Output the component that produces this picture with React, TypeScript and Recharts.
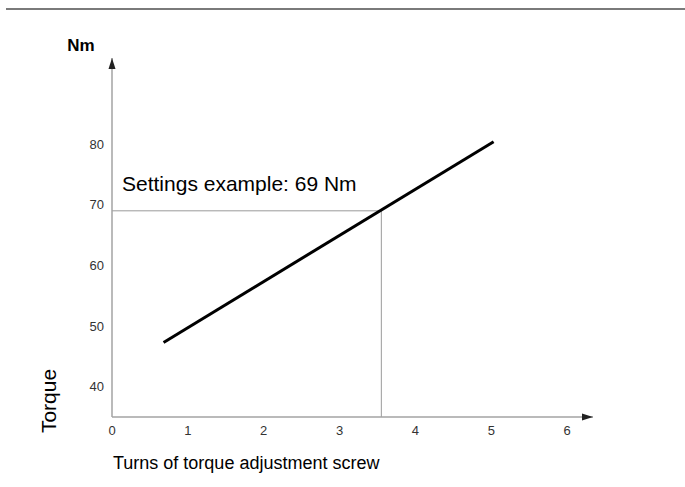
import { LineChart, Line, XAxis, YAxis, ReferenceLine, ReferenceDot, Label } from 'recharts';

const turns = [0.68, 5.03];
const torque = [47.3, 80.4];
const xTicks = [0, 1, 2, 3, 4, 5, 6];
const yTicks = [40, 50, 60, 70, 80];
const settingTurns = 3.55;
const settingTorque = 69;

const X_MAX = 6.34;
const Y_MIN = 35;
const Y_MAX = 94.2;

const data = turns.map((t, i) => ({ x: t, y: torque[i] }));

const axisColor = '#a3a3a3';
const font = '"Liberation Sans", Arial, sans-serif';

// tick labels drawn by hand so the size is sure to stick
const xTick = (props: any) => {
  const { x, y, payload } = props;
  return (
    <text x={x} y={y + 8} textAnchor="middle" fontSize={13} fill="#333" fontFamily={font}>
      {payload.value}
    </text>
  );
};

const yTick = (props: any) => {
  const { x, y, payload } = props;
  return (
    <text x={x} y={y + 4.5} textAnchor="end" fontSize={13} fill="#333" fontFamily={font}>
      {payload.value}
    </text>
  );
};

const xArrow = (props: any) => {
  const { cx, cy } = props;
  return <polygon points={`${cx},${cy} ${cx - 11},${cy - 3.5} ${cx - 11},${cy + 3.5}`} fill="#222" />;
};

const yArrow = (props: any) => {
  const { cx, cy } = props;
  return (
    <g>
      <polygon points={`${cx},${cy} ${cx - 3.5},${cy + 11} ${cx + 3.5},${cy + 11}`} fill="#222" />
      <text x={cx - 31} y={cy - 7} textAnchor="middle" fontSize={17} fontWeight="bold" fill="#000" fontFamily={font}>
        Nm
      </text>
    </g>
  );
};

export default function App() {
  return (
    <div style={{ position: 'absolute', left: 0, top: 0, width: 685, height: 487, background: '#fff', fontFamily: font }}>
      <div style={{ position: 'absolute', left: 6, top: 8, width: 679, height: 2, background: '#7a7a7a' }} />
      <LineChart width={685} height={487} data={data} margin={{ top: 58, right: 92, left: 72, bottom: 0 }}>
        <XAxis
          type="number"
          dataKey="x"
          domain={[0, X_MAX]}
          ticks={xTicks}
          allowDataOverflow
          axisLine={{ stroke: axisColor, strokeWidth: 1.5 }}
          tickLine={false}
          tickSize={0}
          tickMargin={10}
          height={70}
          tick={xTick}
        >
          <Label
            content={(p: any) => (
              <text x={p.viewBox.x + 1} y={p.viewBox.y + 52} fontSize={18} fill="#000" fontFamily={font}>
                Turns of torque adjustment screw
              </text>
            )}
          />
        </XAxis>
        <YAxis
          type="number"
          domain={[Y_MIN, Y_MAX]}
          ticks={yTicks}
          allowDataOverflow
          width={40}
          axisLine={{ stroke: axisColor, strokeWidth: 1.5 }}
          tickLine={false}
          tickSize={0}
          tickMargin={8}
          tick={yTick}
        >
          <Label
            content={() => (
              <text
                x={48}
                y={401}
                textAnchor="middle"
                dominantBaseline="central"
                fontSize={21}
                fill="#000"
                fontFamily={font}
                transform="rotate(-90, 48, 401)"
              >
                Torque
              </text>
            )}
          />
        </YAxis>
        <ReferenceLine
          segment={[{ x: 0, y: settingTorque }, { x: settingTurns, y: settingTorque }]}
          stroke="#9a9a9a"
          strokeWidth={1}
          ifOverflow="visible"
        >
          <Label
            content={(p: any) => (
              <text x={p.viewBox.x + 10} y={p.viewBox.y - 20} fontSize={21} fill="#000" fontFamily={font}>
                Settings example: 69 Nm
              </text>
            )}
          />
        </ReferenceLine>
        <ReferenceLine
          segment={[{ x: settingTurns, y: Y_MIN }, { x: settingTurns, y: settingTorque }]}
          stroke="#9a9a9a"
          strokeWidth={1}
          ifOverflow="visible"
        />
        <Line
          type="linear"
          dataKey="y"
          stroke="#000"
          strokeWidth={3}
          dot={false}
          activeDot={false}
          isAnimationActive={false}
        />
        <ReferenceDot x={X_MAX} y={Y_MIN} r={0} ifOverflow="visible" shape={xArrow} />
        <ReferenceDot x={0} y={Y_MAX} r={0} ifOverflow="visible" shape={yArrow} />
      </LineChart>
    </div>
  );
}
